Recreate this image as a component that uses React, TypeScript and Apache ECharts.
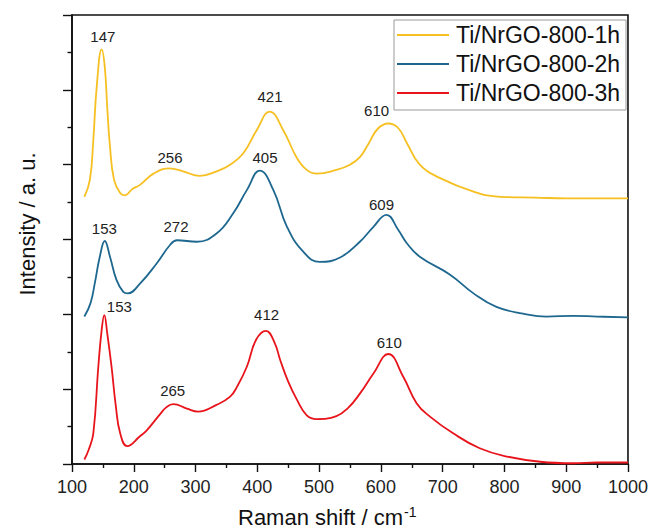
import React, { useEffect, useRef } from "react";
import * as echarts from "echarts";

const seriesNames = ["Ti/NrGO-800-1h", "Ti/NrGO-800-2h", "Ti/NrGO-800-3h"];
const seriesColors = ["#F6C022", "#1E6890", "#E8141B"];

const x1h = [120,129,134.5,140,148,153,157,161.5,168,178,186,197,210,232,258,280,307,334,356,377,399,420,442,464,480,496,528,550,566,580,595,612,628,642,663,696,750,793,850,900,950,1000];
const y1h = [3.57,3.80,4.33,5.04,5.54,5.31,4.77,4.24,3.80,3.62,3.59,3.67,3.73,3.88,3.95,3.91,3.85,3.91,4.00,4.15,4.46,4.71,4.46,4.09,3.93,3.88,3.93,4.00,4.10,4.28,4.48,4.55,4.49,4.29,4.00,3.82,3.64,3.57,3.56,3.55,3.55,3.55];

const x2h = [120,130,137,145,153,161.5,172,183,190,210,237,259,270,302,334,361,383,404,426,448,474,501,534,566,588,609,628,642,663,712,750,787,830,868,911,950,1000];
const y2h = [1.97,2.15,2.42,2.77,2.98,2.77,2.46,2.30,2.28,2.41,2.68,2.93,2.99,2.97,3.08,3.35,3.66,3.92,3.66,3.17,2.84,2.70,2.76,2.97,3.17,3.33,3.13,2.95,2.77,2.53,2.28,2.10,2.01,1.97,1.98,1.97,1.96];

const x3h = [120,127,134.5,142.6,148,152.3,157,164,171,178,189.5,210,221,242,253,264,286,304,334,356,367,383,398,414,428,437,450,464,480,496,528,547,566,588,612,636,658,680,717,760,804,858,911,950,1000];
const y3h = [0.06,0.19,0.41,1.30,1.79,1.99,1.75,1.30,0.77,0.41,0.24,0.37,0.45,0.66,0.76,0.80,0.74,0.70,0.79,0.90,1.03,1.30,1.66,1.78,1.62,1.39,1.10,0.86,0.65,0.60,0.64,0.75,0.94,1.21,1.47,1.17,0.81,0.63,0.41,0.21,0.10,0.03,0.01,0.02,0.02];

// peak labels: text, label x (cm-1), label y (a.u.)
const peakLabels1h = ["147", "256", "421", "610"];
const peakLabelX1h = [150, 258.6, 420.5, 593];
const peakLabelY1h = [5.71, 4.09, 4.91, 4.72];
const peakLabels2h = ["153", "272", "405", "609"];
const peakLabelX2h = [152.3, 268.3, 412.4, 601];
const peakLabelY2h = [3.15, 3.17, 4.09, 3.47];
const peakLabels3h = ["153", "265", "412", "610"];
const peakLabelX3h = [176.6, 263, 415, 613.6];
const peakLabelY3h = [2.1, 0.98, 2.0, 1.63];

const FONT = "'Liberation Sans', Arial, Helvetica, sans-serif";

function zip(xs: number[], ys: number[]) {
  return xs.map((x, i) => [x, ys[i]]);
}

function marks(texts: string[], xs: number[], ys: number[]) {
  return texts.map((t, i) => ({ name: t, coord: [xs[i], ys[i]] }));
}

export default function App() {
  const ref = useRef<HTMLDivElement>(null);
  useEffect(() => {
    if (!ref.current) return;
    const chart = echarts.init(ref.current, undefined, { renderer: "svg" });
    const mk = (i: number, xs: number[], ys: number[], lt: string[], lx: number[], ly: number[]) => ({
      name: seriesNames[i],
      type: "line",
      data: zip(xs, ys),
      showSymbol: false,
      symbol: "none",
      smooth: 0.45,
      lineStyle: { color: seriesColors[i], width: 1.8 },
      itemStyle: { color: seriesColors[i] },
      z: 3 - i,
      markPoint: {
        symbol: "circle",
        symbolSize: 0,
        silent: true,
        label: {
          show: true,
          position: "inside",
          formatter: "{b}",
          color: "#222",
          fontSize: 15,
          fontFamily: FONT,
        },
        data: marks(lt, lx, ly),
      },
    });
    chart.setOption({
      animation: false,
      backgroundColor: "#fff",
      grid: {
        left: 72,
        right: 23,
        top: 15,
        bottom: 64,
        show: true,
        borderColor: "#111",
        borderWidth: 1.6,
        backgroundColor: "transparent",
      },
      legend: {
        data: seriesNames,
        orient: "vertical",
        left: 394,
        top: 20,
        padding: [3, 6, 5, 3],
        icon: "rect",
        itemWidth: 52,
        itemHeight: 2,
        itemGap: 5,
        borderColor: "#999",
        borderWidth: 1,
        backgroundColor: "#fff",
        textStyle: { fontSize: 23, lineHeight: 24, color: "#111", fontFamily: FONT, padding: [0, 0, 0, 2] },
      },
      xAxis: {
        type: "value",
        min: 100,
        max: 1000,
        interval: 100,
        axisLine: { show: true, lineStyle: { color: "#111", width: 1.6 } },
        axisTick: { show: true, length: 8, lineStyle: { color: "#111", width: 1.4 } },
        minorTick: { show: true, splitNumber: 2, length: 4, lineStyle: { color: "#111", width: 1.4 } },
        axisLabel: { fontSize: 18, color: "#222", margin: 14, fontFamily: FONT, formatter: (v: number) => String(v) },
        splitLine: { show: false },
      },
      yAxis: {
        type: "value",
        min: 0,
        max: 6,
        interval: 1,
        axisLine: { show: true, lineStyle: { color: "#111", width: 1.6 } },
        axisTick: { show: true, length: 9, lineStyle: { color: "#111", width: 1.4 } },
        minorTick: { show: true, splitNumber: 2, length: 4.5, lineStyle: { color: "#111", width: 1.4 } },
        axisLabel: { show: false },
        splitLine: { show: false },
      },
      graphic: [
        {
          type: "text",
          x: 27,
          y: 224,
          rotation: Math.PI / 2,
          style: {
            text: "Intensity / a. u.",
            font: `22px ${FONT}`,
            fill: "#111",
            align: "center",
            verticalAlign: "middle",
          },
        },
        {
          type: "text",
          x: 238,
          y: 517,
          style: {
            text: "Raman shift / cm{sup|-1}",
            font: `22px ${FONT}`,
            fill: "#111",
            align: "left",
            verticalAlign: "middle",
            rich: {
              sup: { fontSize: 14, fontFamily: FONT, fill: "#111", verticalAlign: "top", lineHeight: 24, padding: [0, 0, 10, 1] },
            },
          },
        },
      ],
      series: [
        mk(0, x1h, y1h, peakLabels1h, peakLabelX1h, peakLabelY1h),
        mk(1, x2h, y2h, peakLabels2h, peakLabelX2h, peakLabelY2h),
        mk(2, x3h, y3h, peakLabels3h, peakLabelX3h, peakLabelY3h),
      ],
    });
    return () => chart.dispose();
  }, []);
  return <div ref={ref} style={{ width: 651, height: 528, position: "absolute", left: 0, top: 0 }} />;
}
